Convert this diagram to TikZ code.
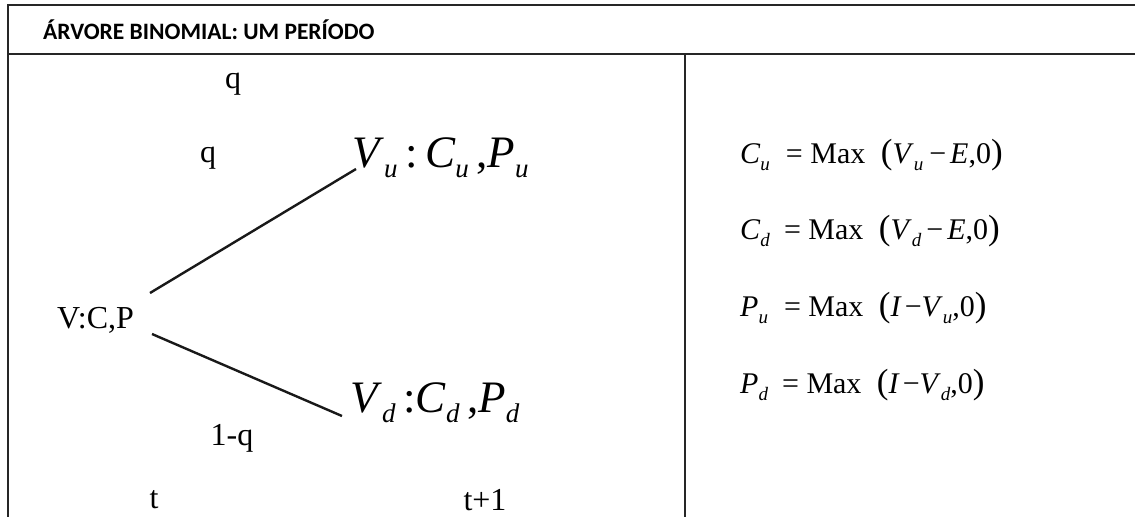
\documentclass[tikz,border=0pt]{standalone}
\usepackage{fontspec}
\setmainfont{Liberation Serif}
\newfontfamily\headfont{Carlito}
\usetikzlibrary{positioning}

% variable with a subscript, big tree labels
\newcommand{\bigsub}[2]{\textit{#1}\raisebox{-10pt}{\fontsize{27}{27}\selectfont\textit{#2}}}
% variable with a subscript, payoff formulas
\newcommand{\eqsub}[2]{\textit{#1}\raisebox{-7pt}{\fontsize{19}{19}\selectfont\textit{#2}}}
\newcommand{\lp}{{\fontsize{35}{35}\selectfont(}}
\newcommand{\rp}{{\fontsize{35}{35}\selectfont)}}

\begin{document}
\begin{tikzpicture}[
		x=1pt, y=-1pt,
		frame/.style = {line width=2.4pt, draw=black!85},
		branch/.style = {line width=2.4pt, draw=black!90},
		lbl/.style = {inner sep=0pt, font=\fontsize{32}{32}\selectfont},
		big/.style = {inner sep=0pt, anchor=base west, font=\fontsize{45}{45}\selectfont},
		payoff/.style = {inner sep=0pt, anchor=base west, font=\fontsize{30}{30}\selectfont}
		]
		\useasboundingbox (0,0) rectangle (1135,517);
		
		% --- Moldura da tabela ---
		\draw [frame] (1135,5) -- (8,5) -- (8,517);
		\draw [frame] (8,54) -- (1135,54);
		\draw [frame] (685,54) -- (685,517);
		
		\node [anchor=west, inner sep=0pt, font=\headfont\bfseries\fontsize{23.5}{23.5}\selectfont] (titulo) at (43,30) {ÁRVORE BINOMIAL: UM PERÍODO};
		
		% --- Árvore de um período ---
		\node [lbl] (q1) at (233,84) {q};
		\node [lbl] (q2) at (208,158) {q};
		\node [lbl, anchor=west] (raiz) at (57,320) {V:C,P};
		\node [big] (alta) at (352,167) {\bigsub{V}{u}\,:\,\bigsub{C}{u}\,,\bigsub{P}{u}};
		\node [big] (baixa) at (350,412) {\bigsub{V}{d}\,:\bigsub{C}{d}\,,\bigsub{P}{d}};
		\node [lbl] (pq) at (232,438) {1-q};
		\node [lbl] (t0) at (154,500) {t};
		\node [lbl] (t1) at (485,500) {t+1};
		
		\coordinate (sobe) at (150,293);
		\coordinate (desce) at (152,334);
		\draw [branch] (sobe) -- ([xshift=4pt, yshift=-2pt]alta.base west);
		\draw [branch] (desce) -- ([xshift=-8pt, yshift=-4pt]baixa.base west);
		
		% --- Payoffs ---
		\node [payoff] (cu) at (740,163) {\eqsub{C}{u}\hspace{16pt}= Max \hspace{8pt}\lp\eqsub{V}{u}\hspace{6pt}−\hspace{4pt}\textit{E},0\rp};
		\node [payoff] (cd) at (740,239) {\eqsub{C}{d}\hspace{14pt}= Max \hspace{8pt}\lp\eqsub{V}{d}\hspace{5pt}−\hspace{4pt}\textit{E},0\rp};
		\node [payoff] (pu) at (740,316) {\eqsub{P}{u}\hspace{16pt}= Max \hspace{8pt}\lp\textit{I}\hspace{3pt}−\eqsub{V}{u},0\rp};
		\node [payoff] (pd) at (740,393) {\eqsub{P}{d}\hspace{14pt}= Max \hspace{8pt}\lp\textit{I}\hspace{3pt}−\eqsub{V}{d},0\rp};
		
	\end{tikzpicture}
\end{document}
